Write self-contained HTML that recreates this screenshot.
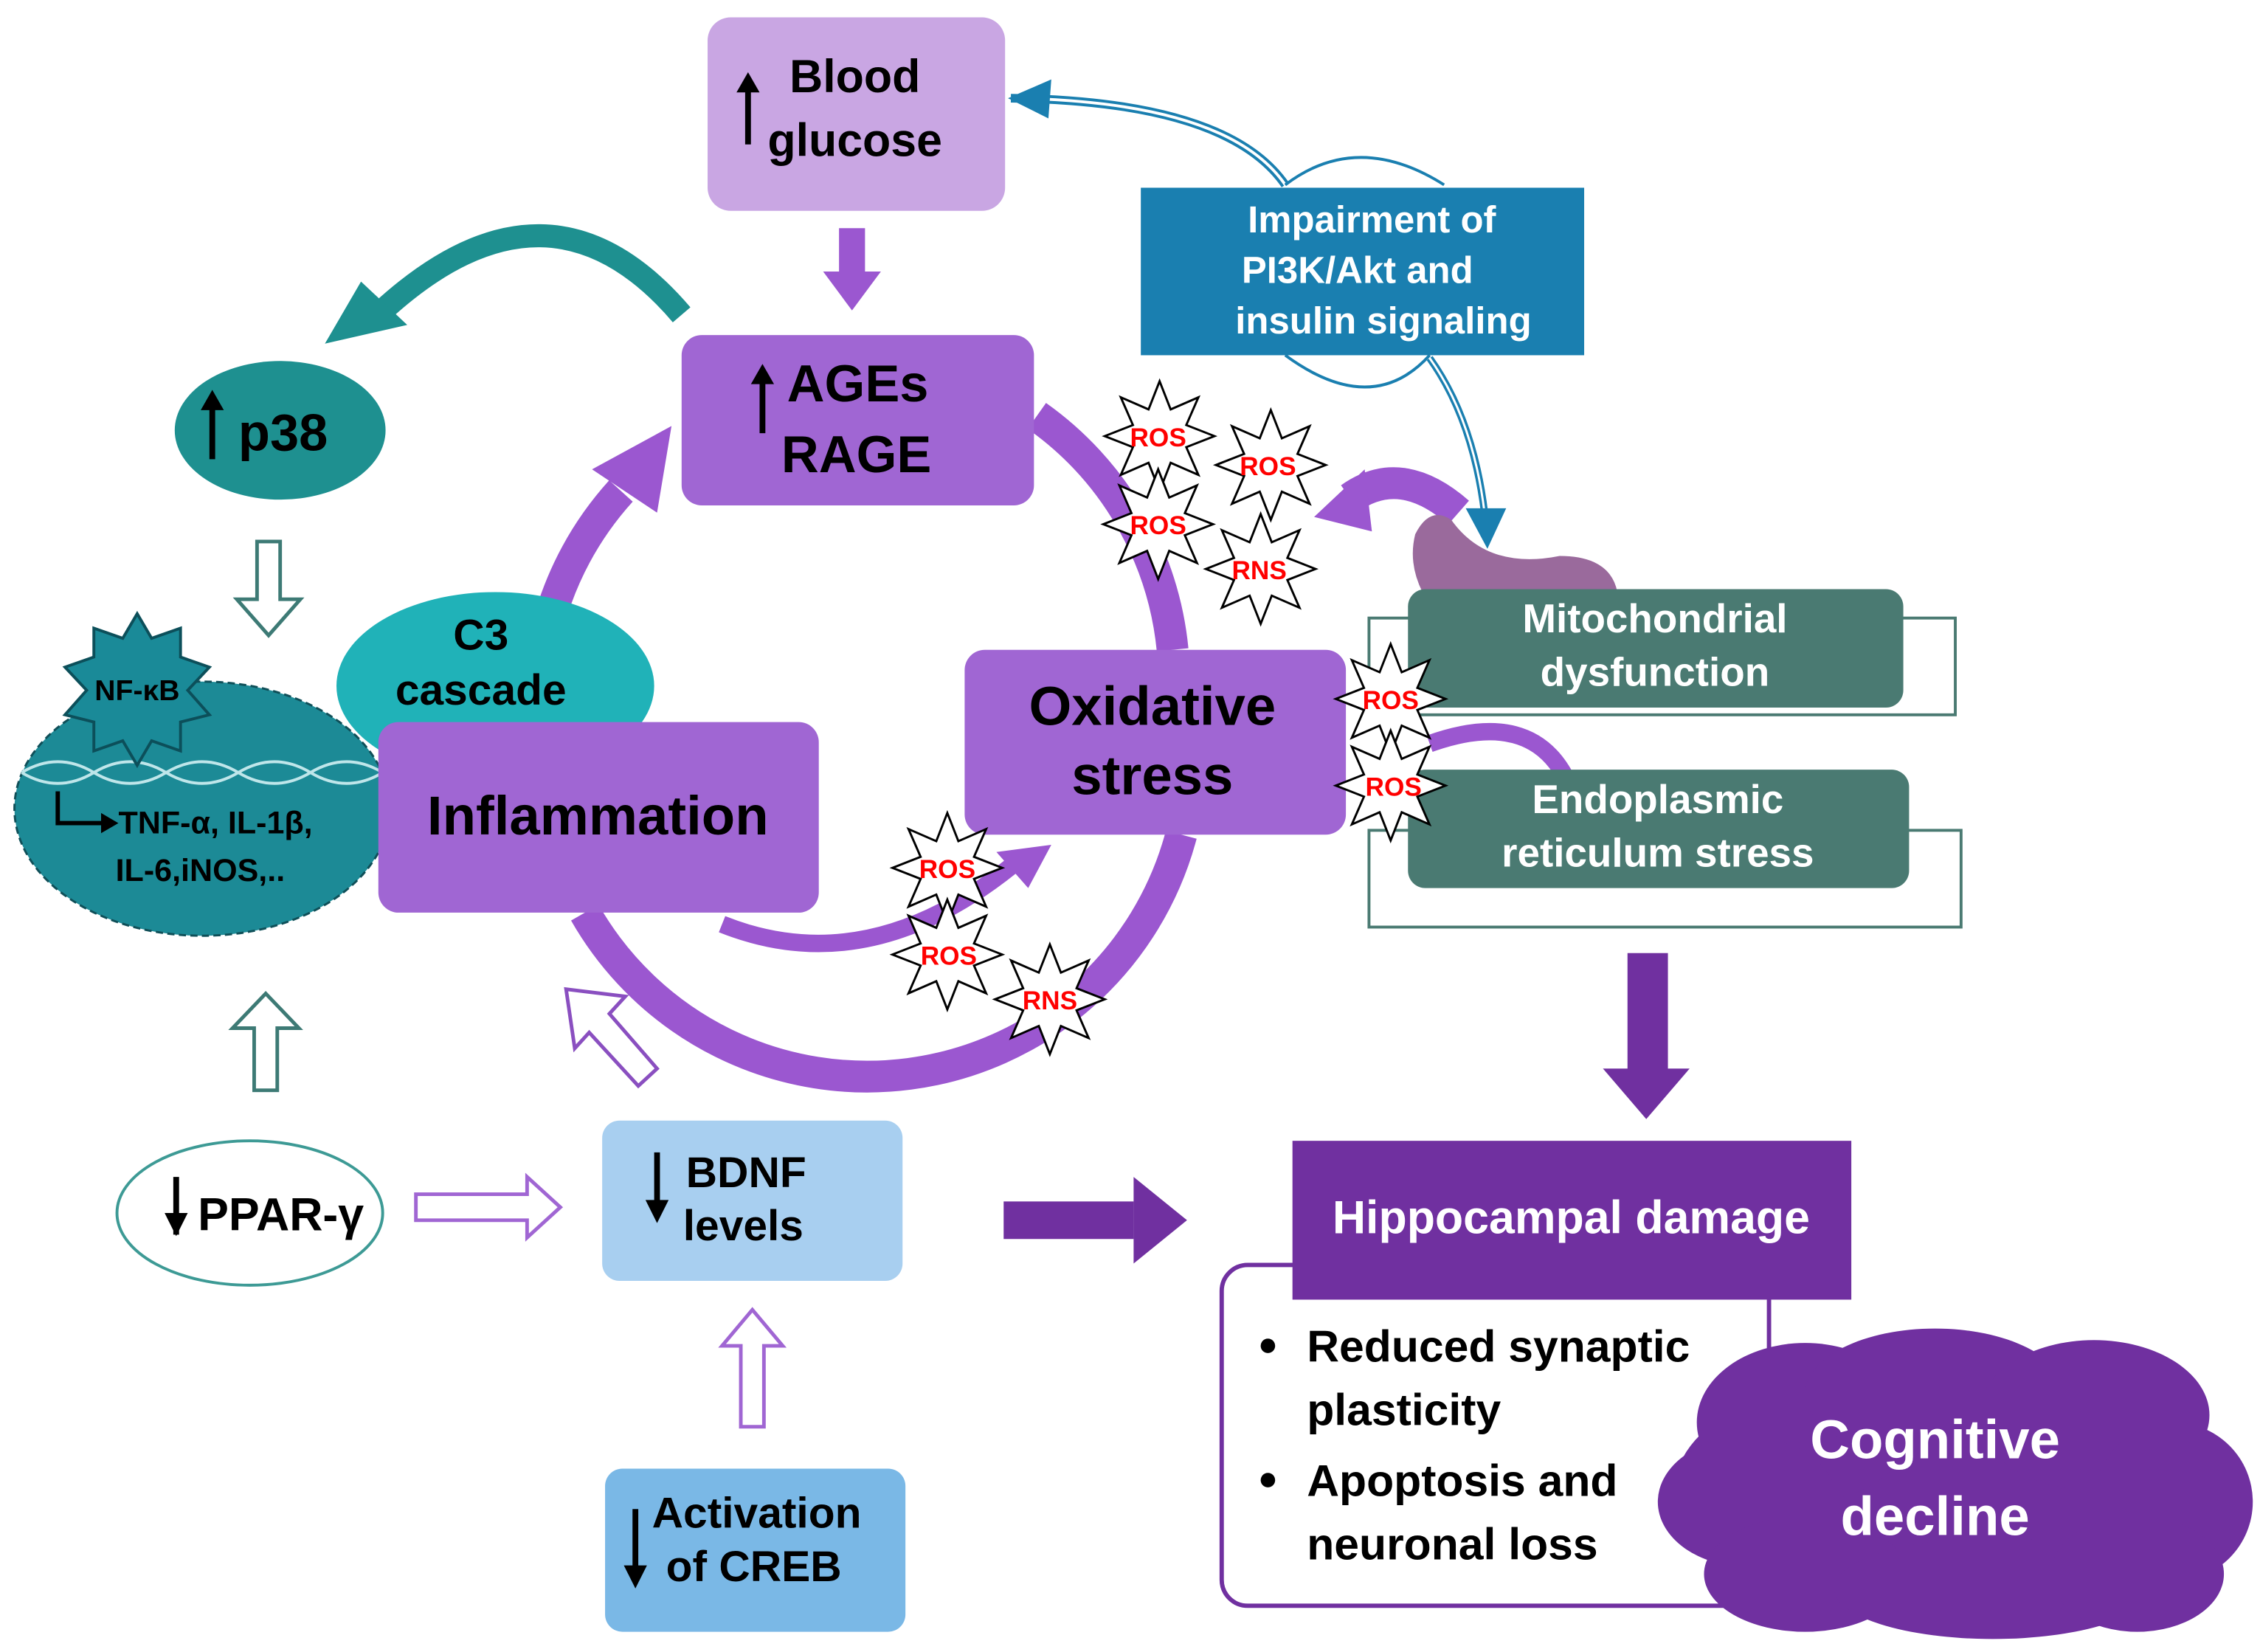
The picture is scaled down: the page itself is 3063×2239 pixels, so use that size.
<!DOCTYPE html>
<html><head><meta charset="utf-8"><style>
html,body{margin:0;padding:0;background:#fff}
svg{display:block}
text{font-family:"Liberation Sans",sans-serif;font-weight:bold}
</style></head><body>
<svg width="3063" height="2239" viewBox="0 0 1565 1144" preserveAspectRatio="none" xmlns="http://www.w3.org/2000/svg">
<defs>
<polygon id="star" points="0,-38 7.65,-18.48 26.87,-26.87 18.48,-7.65 38,0 18.48,7.65 26.87,26.87 7.65,18.48 0,38 -7.65,18.48 -26.87,26.87 -18.48,7.65 -38,0 -18.48,-7.65 -26.87,-26.87 -7.65,-18.48" fill="#fff" stroke="#000" stroke-width="1.5"/>
</defs>
<rect width="1565" height="1144" fill="#fff"/>

<!-- big purple cycle -->
<g fill="none" stroke="#9b57d0" stroke-width="22">
<path d="M718,288 A225,225 0 0 1 812,450"/>
<path d="M818,578 A225,225 0 0 1 405,632"/>
<path d="M372,500 A225,225 0 0 1 430,340"/>
</g>
<polygon points="410,325 465,295 455,355" fill="#9b57d0"/>
<!-- small inner arrow -->
<path d="M500,640 Q600,680 700,600" fill="none" stroke="#9b57d0" stroke-width="12"/>
<polygon points="690,590 728,585 712,615" fill="#9b57d0"/>
<!-- arrow from mito to ROS -->
<path d="M1010,355 Q970,320 935,345" fill="none" stroke="#9b57d0" stroke-width="22"/>
<polygon points="910,358 945,325 950,368" fill="#9b57d0"/>
<path d="M1085,540 Q1060,490 990,515" fill="none" stroke="#9b57d0" stroke-width="12"/>

<!-- Blood glucose -->
<rect x="490" y="12" width="206" height="134" rx="16" fill="#c9a6e3"/>
<text x="592" y="64" font-size="32" text-anchor="middle">Blood</text>
<text x="592" y="108" font-size="32" text-anchor="middle">glucose</text>
<path d="M518,100 V60" stroke="#000" stroke-width="4"/><polygon points="510,64 518,50 526,64"/>
<!-- down arrow -->
<rect x="581" y="158" width="18" height="32" fill="#9b57d0"/><polygon points="570,188 610,188 590,215" fill="#9b57d0"/>

<!-- AGEs -->
<rect x="472" y="232" width="244" height="118" rx="14" fill="#a066d3"/>
<text x="545" y="278" font-size="36">AGEs</text>
<text x="541" y="327" font-size="36">RAGE</text>
<path d="M528,300 V262" stroke="#000" stroke-width="4"/><polygon points="520,266 528,252 536,266"/>

<!-- Impairment -->
<path d="M700,68 Q850,70 890,128" fill="none" stroke="#1a7fb0" stroke-width="6"/>
<path d="M700,68 Q850,70 890,128" fill="none" stroke="#fff" stroke-width="2"/>
<polygon points="698,68 728,55 726,82" fill="#1a7fb0"/>
<path d="M890,128 Q940,90 1000,128" fill="none" stroke="#1a7fb0" stroke-width="2"/>
<path d="M890,246 Q950,290 990,246" fill="none" stroke="#1a7fb0" stroke-width="2"/>
<path d="M990,248 Q1020,290 1028,355" fill="none" stroke="#1a7fb0" stroke-width="5"/>
<path d="M990,248 Q1020,290 1028,355" fill="none" stroke="#fff" stroke-width="1.5"/>
<polygon points="1015,352 1043,352 1030,380" fill="#1a7fb0"/>
<rect x="790" y="130" width="307" height="116" fill="#1a7fb0"/>
<text x="950" y="161" font-size="26" fill="#fff" text-anchor="middle">Impairment of</text>
<text x="940" y="196" font-size="26" fill="#fff" text-anchor="middle">PI3K/Akt  and</text>
<text x="958" y="231" font-size="26" fill="#fff" text-anchor="middle">insulin signaling</text>

<!-- mitochondrion -->
<path d="M980,370 Q990,350 1005,360 Q1030,395 1080,385 Q1115,385 1120,410 L985,410 Q975,390 980,370Z" fill="#9a6a9c"/>

<!-- Mito / ER boxes -->
<rect x="948" y="428" width="406" height="67" fill="#fff" stroke="#4a7a72" stroke-width="2"/>
<rect x="975" y="408" width="343" height="82" rx="12" fill="#4a7a72"/>
<text x="1146" y="438" font-size="28" fill="#fff" text-anchor="middle">Mitochondrial</text>
<text x="1146" y="475" font-size="28" fill="#fff" text-anchor="middle">dysfunction</text>
<rect x="948" y="575" width="410" height="67" fill="#fff" stroke="#4a7a72" stroke-width="2"/>
<rect x="975" y="533" width="347" height="82" rx="12" fill="#4a7a72"/>
<text x="1148" y="563" font-size="28" fill="#fff" text-anchor="middle">Endoplasmic</text>
<text x="1148" y="600" font-size="28" fill="#fff" text-anchor="middle">reticulum stress</text>

<!-- teal curved arrow to p38 -->
<path d="M472,218 Q380,110 265,215" fill="none" stroke="#1e9090" stroke-width="16"/>
<polygon points="225,238 250,195 282,225" fill="#1e9090"/>
<!-- p38 -->
<ellipse cx="194" cy="298" rx="73" ry="48" fill="#1e9090"/>
<text x="165" y="312" font-size="36">p38</text>
<path d="M147,318 V280" stroke="#000" stroke-width="4"/><polygon points="139,284 147,270 155,284"/>
<!-- hollow down arrow -->
<polygon points="178,375 194,375 194,415 208,415 186,440 164,415 178,415" fill="#fff" stroke="#3d7a75" stroke-width="2.5"/>

<!-- C3 -->
<ellipse cx="343" cy="475" rx="110" ry="65" fill="#20b2b8"/>
<text x="333" y="450" font-size="30" text-anchor="middle">C3</text>
<text x="333" y="488" font-size="30" text-anchor="middle">cascade</text>
<!-- NF-kB ellipse -->
<ellipse cx="140" cy="560" rx="130" ry="88" fill="#1c8a96" stroke="#0f4f58" stroke-width="1.5" stroke-dasharray="5,3"/>
<path d="M15,535 Q40,520 65,535 T115,535 T165,535 T215,535 T265,535" fill="none" stroke="#bfe6ea" stroke-width="2"/>
<path d="M15,535 Q40,550 65,535 T115,535 T165,535 T215,535 T265,535" fill="none" stroke="#bfe6ea" stroke-width="2"/>
<polygon points="95,425 105,442 125,435 125,455 145,462 130,478 145,495 125,500 125,520 105,513 95,530 85,513 65,520 65,500 45,495 60,478 45,462 65,455 65,435 85,442" fill="#1a8a98" stroke="#0c4f5a" stroke-width="2"/>
<text x="95" y="485" font-size="20" text-anchor="middle">NF-κB</text>
<path d="M40,548 V570 H72" fill="none" stroke="#000" stroke-width="3"/><polygon points="70,563 82,570 70,577"/>
<text x="82" y="577" font-size="22">TNF-α, IL-1β,</text>
<text x="80" y="610" font-size="22">IL-6,iNOS,..</text>

<!-- Inflammation -->
<rect x="262" y="500" width="305" height="132" rx="14" fill="#a066d3"/>
<text x="414" y="578" font-size="38" text-anchor="middle">Inflammation</text>
<!-- Oxidative -->
<rect x="668" y="450" width="264" height="128" rx="14" fill="#a066d3"/>
<text x="798" y="502" font-size="38" text-anchor="middle">Oxidative</text>
<text x="798" y="550" font-size="38" text-anchor="middle">stress</text>

<!-- stars -->
<g font-size="18" fill="#f00" text-anchor="middle">
<use href="#star" transform="translate(803,302)"/><text x="802" y="309" fill="#f00">ROS</text>
<use href="#star" transform="translate(880,322)"/><text x="878" y="329" fill="#f00">ROS</text>
<use href="#star" transform="translate(802,363)"/><text x="802" y="370" fill="#f00">ROS</text>
<use href="#star" transform="translate(873,394)"/><text x="872" y="401" fill="#f00">RNS</text>
<use href="#star" transform="translate(963,484)"/><text x="963" y="491" fill="#f00">ROS</text>
<use href="#star" transform="translate(963,544)"/><text x="965" y="551" fill="#f00">ROS</text>
<use href="#star" transform="translate(656,601)"/><text x="656" y="608" fill="#f00">ROS</text>
<use href="#star" transform="translate(656,661)"/><text x="657" y="668" fill="#f00">ROS</text>
<use href="#star" transform="translate(727,692)"/><text x="727" y="699" fill="#f00">RNS</text>
</g>

<!-- hollow up arrow teal -->
<polygon points="176,755 192,755 192,712 207,712 184,688 161,712 176,712" fill="#fff" stroke="#3d7a75" stroke-width="2.5"/>
<!-- hollow diagonal arrow -->
<polygon points="455,740 442,752 408,715 398,726 392,685 433,690 422,702" fill="#fff" stroke="#8a4fc0" stroke-width="2.5"/>

<!-- PPAR -->
<ellipse cx="173" cy="840" rx="92" ry="50" fill="#fff" stroke="#3d9a95" stroke-width="2"/>
<text x="137" y="852" font-size="32">PPAR-γ</text>
<path d="M122,855 V815" stroke="#000" stroke-width="4"/><polygon points="114,840 122,856 130,840"/>
<polygon points="288,827 365,827 365,815 388,836 365,857 365,845 288,845" fill="#fff" stroke="#a066d3" stroke-width="2.5"/>

<!-- BDNF -->
<rect x="417" y="776" width="208" height="111" rx="12" fill="#a8cff0"/>
<text x="475" y="822" font-size="30">BDNF</text>
<text x="473" y="859" font-size="30">levels</text>
<path d="M455,798 V835" stroke="#000" stroke-width="4"/><polygon points="447,831 455,847 463,831"/>
<!-- right arrow -->
<rect x="695" y="832" width="90" height="26" fill="#7030a0"/><polygon points="785,815 822,845 785,875" fill="#7030a0"/>
<!-- hollow up -->
<polygon points="513,988 529,988 529,932 542,932 521,907 500,932 513,932" fill="#fff" stroke="#a066d3" stroke-width="2.5"/>
<!-- CREB -->
<rect x="419" y="1017" width="208" height="113" rx="12" fill="#7ab8e6"/>
<text x="524" y="1058" font-size="30" text-anchor="middle">Activation</text>
<text x="522" y="1095" font-size="30" text-anchor="middle">of CREB</text>
<path d="M440,1045 V1088" stroke="#000" stroke-width="4"/><polygon points="432,1084 440,1100 448,1084"/>

<!-- down arrow to hippocampal -->
<rect x="1127" y="660" width="28" height="82" fill="#7030a0"/><polygon points="1110,740 1170,740 1140,775" fill="#7030a0"/>
<!-- outline box -->
<rect x="846" y="876" width="379" height="236" rx="18" fill="#fff" stroke="#7030a0" stroke-width="3"/>
<rect x="895" y="790" width="387" height="110" fill="#7030a0"/>
<text x="1088" y="854" font-size="32" fill="#fff" text-anchor="middle">Hippocampal  damage</text>
<g font-size="31">
<circle cx="878" cy="932" r="5"/><text x="905" y="943">Reduced synaptic</text>
<text x="905" y="987">plasticity</text>
<circle cx="878" cy="1025" r="5"/><text x="905" y="1036">Apoptosis  and</text>
<text x="905" y="1080">neuronal  loss</text>
</g>
<!-- cloud -->
<g fill="#7030a0">
<ellipse cx="1340" cy="1030" rx="180" ry="85"/>
<ellipse cx="1250" cy="985" rx="75" ry="55"/>
<ellipse cx="1340" cy="965" rx="90" ry="45"/>
<ellipse cx="1450" cy="980" rx="80" ry="52"/>
<ellipse cx="1505" cy="1040" rx="55" ry="55"/>
<ellipse cx="1210" cy="1040" rx="62" ry="45"/>
<ellipse cx="1250" cy="1090" rx="70" ry="40"/>
<ellipse cx="1380" cy="1100" rx="110" ry="35"/>
<ellipse cx="1480" cy="1090" rx="60" ry="40"/>
</g>
<text x="1340" y="1010" font-size="38" fill="#fff" text-anchor="middle">Cognitive</text>
<text x="1340" y="1063" font-size="38" fill="#fff" text-anchor="middle">decline</text>
</svg>
</body></html>
